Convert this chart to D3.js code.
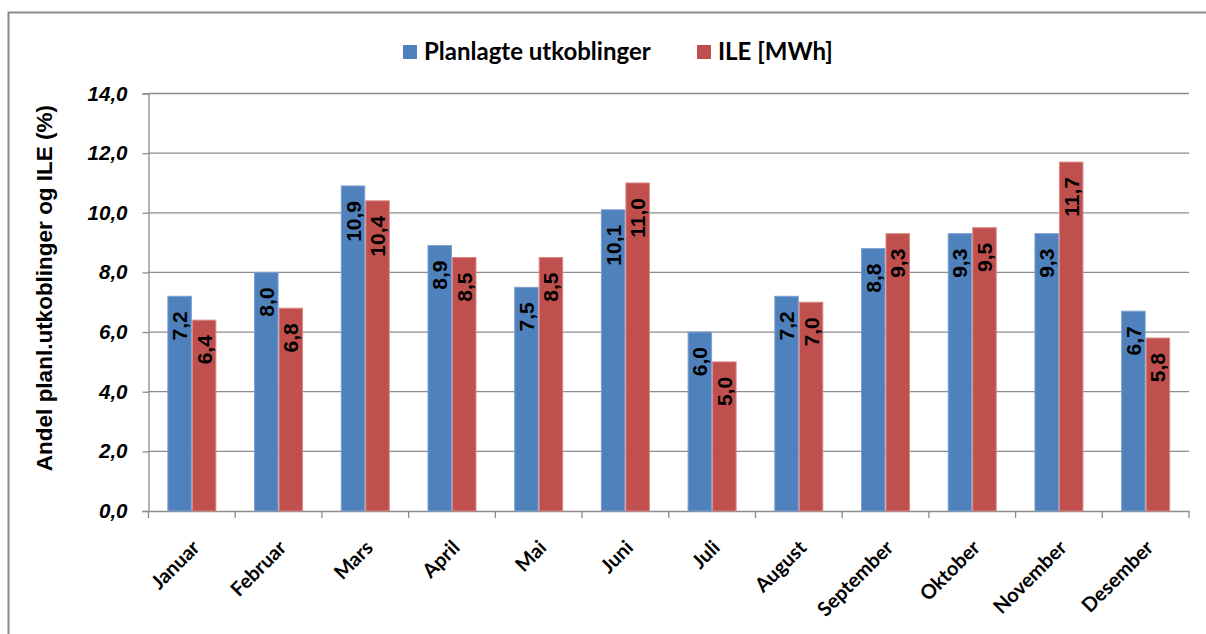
<!DOCTYPE html>
<html>
<head>
<meta charset="utf-8">
<script src="https://cdn.jsdelivr.net/npm/d3@7"></script>
<style>
  body { margin: 0; background: #fff; }
  svg { display: block; }
</style>
</head>
<body>
<div id="chart"></div>
<script>
// chart data
const months = ["Januar", "Februar", "Mars", "April", "Mai", "Juni", "Juli",
                "August", "September", "Oktober", "November", "Desember"];
const planlagte = [7.2, 8.0, 10.9, 8.9, 7.5, 10.1, 6.0, 7.2, 8.8, 9.3, 9.3, 6.7];
const ile = [6.4, 6.8, 10.4, 8.5, 8.5, 11.0, 5.0, 7.0, 9.3, 9.5, 11.7, 5.8];
const seriesNames = ["Planlagte utkoblinger", "ILE [MWh]"];
const yTicks = [0, 2, 4, 6, 8, 10, 12, 14];

const colors = ["#4f81bd", "#c0504d"];
const edges = ["#7da0d0", "#d98885"];

const W = 1206, H = 634;
const margin = {top: 93.5, right: 17, bottom: 123, left: 148.5};
const plotW = W - margin.left - margin.right;
const plotH = H - margin.top - margin.bottom;

const svg = d3.select("#chart").append("svg")
    .attr("width", W).attr("height", H);

// outer frame (cut off at right and bottom)
svg.append("rect")
    .attr("x", 8.5).attr("y", 12.5)
    .attr("width", W + 10).attr("height", H + 10)
    .attr("fill", "none").attr("stroke", "#8a8a8a").attr("stroke-width", 2);

const g = svg.append("g").attr("transform", `translate(${margin.left},${margin.top})`);

const pad = 1 - 49 / (plotW / 12);
const x0 = d3.scaleBand().domain(months).range([0, plotW])
    .paddingInner(pad).paddingOuter(pad / 2);
const x1 = d3.scaleBand().domain([0, 1]).range([0, x0.bandwidth()]);
const y = d3.scaleLinear().domain([0, 14]).range([plotH, 0]);

// gridlines
g.append("g").selectAll("line").data(yTicks.filter(d => d > 0)).join("line")
    .attr("x1", 0).attr("x2", plotW)
    .attr("y1", d => y(d)).attr("y2", d => y(d))
    .attr("stroke", "#8c8c8c").attr("stroke-width", 1.3);

// y axis
const yAxis = g.append("g")
    .call(d3.axisLeft(y).tickValues(yTicks).tickSize(6).tickPadding(15)
        .tickFormat(d => d3.format(".1f")(d).replace(".", ",")));
yAxis.select(".domain").attr("stroke", "#8c8c8c").attr("stroke-width", 1.3);
yAxis.selectAll(".tick line").attr("stroke", "#8c8c8c").attr("stroke-width", 1.3);
yAxis.selectAll(".tick text")
    .attr("font-family", "Liberation Sans, Arial, sans-serif")
    .attr("font-size", 20.5).attr("font-weight", "bold").attr("font-style", "italic")
    .attr("fill", "#000");

// x axis
const xAxis = g.append("g").attr("transform", `translate(0,${plotH})`)
    .call(d3.axisBottom(x0).tickSize(0).tickFormat(""));
xAxis.select(".domain").attr("stroke", "#8c8c8c").attr("stroke-width", 1.3);
xAxis.selectAll(".tick").remove();

const boundaries = d3.range(13).map(i => i * plotW / 12);
xAxis.selectAll("line.bound").data(boundaries).join("line")
    .attr("class", "bound")
    .attr("x1", d => d).attr("x2", d => d).attr("y1", 0).attr("y2", 7)
    .attr("stroke", "#8c8c8c").attr("stroke-width", 1.3);

xAxis.selectAll("text.month").data(months).join("text")
    .attr("class", "month")
    .attr("transform", d => `translate(${x0(d) + x0.bandwidth() / 2 + 9},${38}) rotate(-45)`)
    .attr("text-anchor", "end")
    .attr("font-family", "Lato, Calibri, sans-serif")
    .attr("font-size", 20).attr("font-weight", "bold").attr("fill", "#000")
    .text(d => d);

// bars
const rows = months.map((m, i) => ({month: m, vals: [planlagte[i], ile[i]]}));
const groups = g.append("g").selectAll("g").data(rows).join("g")
    .attr("transform", d => `translate(${x0(d.month)},0)`);

groups.selectAll("rect").data(d => d.vals.map((v, k) => ({v, k}))).join("rect")
    .attr("x", d => x1(d.k) + 0.5)
    .attr("y", d => y(d.v))
    .attr("width", x1.bandwidth() - 1)
    .attr("height", d => plotH - y(d.v))
    .attr("fill", d => colors[d.k])
    .attr("stroke", d => edges[d.k]).attr("stroke-width", 1);

groups.selectAll("text").data(d => d.vals.map((v, k) => ({v, k}))).join("text")
    .attr("transform", d => `translate(${x1(d.k) + x1.bandwidth() / 2},${y(d.v) + 15}) rotate(-90)`)
    .attr("text-anchor", "end")
    .attr("dominant-baseline", "central")
    .attr("font-family", "Liberation Sans, Arial, sans-serif")
    .attr("font-size", 21).attr("font-weight", "bold").attr("fill", "#000")
    .text(d => d3.format(".1f")(d.v).replace(".", ","));

// y axis title
svg.append("text")
    .attr("transform", `translate(44,288) rotate(-90)`)
    .attr("text-anchor", "middle").attr("dominant-baseline", "central")
    .attr("font-family", "Liberation Sans, Arial, sans-serif")
    .attr("font-size", 22.5).attr("font-weight", "bold").attr("fill", "#000")
    .text("Andel planl.utkoblinger og ILE (%)");

// legend
const legendX = [403, 697];
const legend = svg.append("g").selectAll("g").data(seriesNames).join("g")
    .attr("transform", (d, i) => `translate(${legendX[i]},45)`);
legend.append("rect")
    .attr("width", 14).attr("height", 14)
    .attr("fill", (d, i) => colors[i]);
legend.append("text")
    .attr("x", 21).attr("y", 15)
    .attr("font-family", "Lato, Calibri, sans-serif")
    .attr("font-size", 24).attr("font-weight", "bold").attr("fill", "#000")
    .text(d => d);
</script>
</body>
</html>
